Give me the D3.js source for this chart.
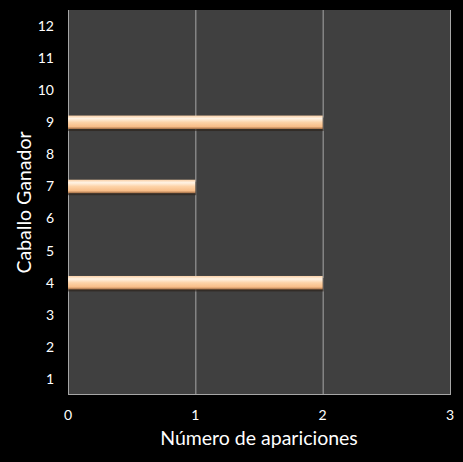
<!DOCTYPE html>
<html>
<head>
<meta charset="utf-8">
<script src="https://cdn.jsdelivr.net/npm/d3@7"></script>
<style>
  html, body { margin: 0; padding: 0; background: #000; }
  svg { display: block; }
  text { font-family: Lato, "Open Sans", sans-serif; fill: #fff; }
</style>
</head>
<body>
<div id="chart"></div>
<script>
// data
const caballos = ["1", "2", "3", "4", "5", "6", "7", "8", "9", "10", "11", "12"];
const apariciones = [0, 0, 0, 2, 0, 0, 1, 0, 2, 0, 0, 0];
const xTicks = [0, 1, 2, 3];

const width = 463, height = 462;
const margin = { top: 10, right: 13, bottom: 67, left: 68 };
const innerW = width - margin.left - margin.right;
const innerH = height - margin.top - margin.bottom;

const svg = d3.select("#chart").append("svg")
    .attr("width", width)
    .attr("height", height);

svg.append("rect").attr("width", width).attr("height", height).attr("fill", "#000");

const defs = svg.append("defs");
const grad = defs.append("linearGradient")
    .attr("id", "barGrad")
    .attr("x1", 0).attr("y1", 0).attr("x2", 0).attr("y2", 1);
grad.append("stop").attr("offset", "0%").attr("stop-color", "#f9cfa6");
grad.append("stop").attr("offset", "22%").attr("stop-color", "#fff3e4");
grad.append("stop").attr("offset", "50%").attr("stop-color", "#fdd3a8");
grad.append("stop").attr("offset", "82%").attr("stop-color", "#f8bd88");
grad.append("stop").attr("offset", "100%").attr("stop-color", "#a06c44");

const g = svg.append("g").attr("transform", `translate(${margin.left},${margin.top})`);

const x = d3.scaleLinear().domain([0, 3]).range([0, innerW]);
const y = d3.scaleBand().domain(caballos.slice().reverse()).range([0, innerH]).paddingInner(0.58).paddingOuter(0.29);

// plot background
g.append("rect")
    .attr("width", innerW)
    .attr("height", innerH)
    .attr("fill", "#404040");

// gridlines
g.append("g")
    .selectAll("line")
    .data(xTicks)
    .join("line")
    .attr("x1", d => x(d) + 0.5)
    .attr("x2", d => x(d) + 0.5)
    .attr("y1", 0)
    .attr("y2", innerH)
    .attr("stroke", "#a6a6a6")
    .attr("stroke-width", 1);

// baseline
g.append("line")
    .attr("x1", 0).attr("x2", innerW)
    .attr("y1", innerH - 0.5).attr("y2", innerH - 0.5)
    .attr("stroke", "#a6a6a6");

// bars (shadow + bar)
const data = caballos.map((c, i) => ({ c, v: apariciones[i] })).filter(d => d.v > 0);

g.append("g")
    .selectAll("rect")
    .data(data)
    .join("rect")
    .attr("x", x(0))
    .attr("y", d => y(d.c) + 2)
    .attr("width", d => x(d.v) - x(0) + 1)
    .attr("height", y.bandwidth())
    .attr("fill", "#2a2018")
    .attr("opacity", 0.6);

g.append("g")
    .selectAll("rect")
    .data(data)
    .join("rect")
    .attr("x", x(0))
    .attr("y", d => y(d.c))
    .attr("width", d => x(d.v) - x(0))
    .attr("height", y.bandwidth())
    .attr("fill", "url(#barGrad)");

// y tick labels
g.append("g")
    .selectAll("text")
    .data(caballos)
    .join("text")
    .attr("x", -14)
    .attr("y", d => y(d) + y.bandwidth() / 2)
    .attr("dy", "0.35em")
    .attr("text-anchor", "end")
    .style("font-size", "14px")
    .text(d => d);

// x tick labels
g.append("g")
    .selectAll("text")
    .data(xTicks)
    .join("text")
    .attr("x", d => x(d))
    .attr("y", innerH + 20)
    .attr("dy", "0.35em")
    .attr("text-anchor", "middle")
    .style("font-size", "14px")
    .text(d => d);

// axis titles
svg.append("text")
    .attr("x", margin.left + innerW / 2)
    .attr("y", 438)
    .attr("dy", "0.35em")
    .attr("text-anchor", "middle")
    .style("font-size", "19.5px")
    .text("Número de apariciones");

svg.append("text")
    .attr("transform", `translate(24,${margin.top + innerH / 2}) rotate(-90)`)
    .attr("dy", "0.35em")
    .attr("text-anchor", "middle")
    .style("font-size", "19.5px")
    .text("Caballo Ganador");
</script>
</body>
</html>
